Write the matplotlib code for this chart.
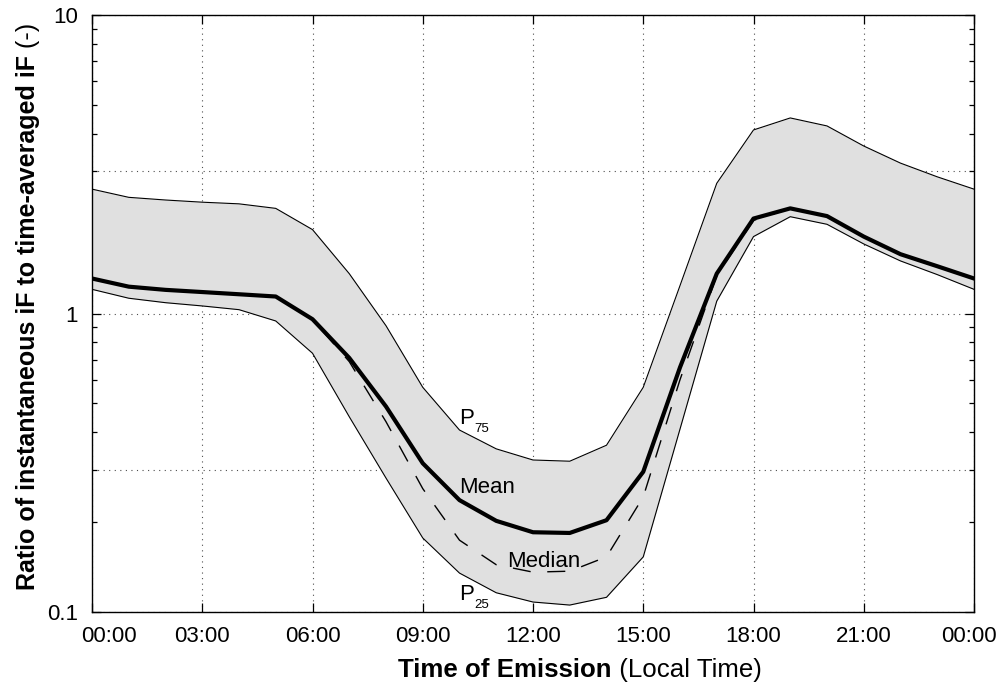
import numpy as np
import matplotlib
matplotlib.use('Agg')
import matplotlib.pyplot as plt
from matplotlib.ticker import FixedLocator, NullFormatter
from matplotlib.transforms import ScaledTranslation

plt.rcParams['font.family'] = ['Liberation Sans', 'DejaVu Sans']

# hour of day (0..24)
hours = list(range(25))

p75 = [2.61, 2.45, 2.40, 2.36, 2.33, 2.25, 1.91, 1.36, 0.91, 0.566, 0.407, 0.352, 0.323,
       0.320, 0.362, 0.566, 1.24, 2.73, 4.12, 4.52, 4.25, 3.64, 3.19, 2.87, 2.61]
mean = [1.31, 1.23, 1.20, 1.18, 1.16, 1.14, 0.957, 0.71, 0.488, 0.315, 0.237, 0.202, 0.185,
        0.184, 0.203, 0.295, 0.66, 1.36, 2.08, 2.25, 2.12, 1.81, 1.58, 1.44, 1.31]
median = [1.31, 1.23, 1.20, 1.18, 1.16, 1.14, 0.955, 0.69, 0.434, 0.259, 0.174, 0.144, 0.136,
          0.137, 0.153, 0.243, 0.60, 1.34, 2.05, 2.25, 2.12, 1.81, 1.58, 1.44, 1.31]
p25 = [1.205, 1.125, 1.087, 1.06, 1.03, 0.944, 0.736, 0.451, 0.281, 0.177, 0.135, 0.116, 0.108,
       0.1055, 0.112, 0.153, 0.41, 1.10, 1.81, 2.11, 1.99, 1.71, 1.50, 1.35, 1.205]

xticks = [0, 3, 6, 9, 12, 15, 18, 21, 24]
xticklabels = ['00:00', '03:00', '06:00', '09:00', '12:00', '15:00', '18:00', '21:00', '00:00']

fig = plt.figure(figsize=(9.99, 6.88), dpi=100)
ax = fig.add_axes([92/999, 1-612/688, 882/999, 597/688])
ax.set_axisbelow(True)

ax.fill_between(hours, p25, p75, color='#e0e0e0', lw=0, zorder=2)
ax.plot(hours, p75, color='k', lw=0.8, zorder=3)
ax.plot(hours, p25, color='k', lw=0.8, zorder=3)
ax.plot(hours, median, color='k', lw=1.0, dashes=(13, 12), zorder=3)
ax.plot(hours, mean, color='k', lw=3.0, zorder=4)

ax.set_yscale('log')
ax.set_ylim(0.1, 10)
ax.set_xlim(0, 24)
ax.set_xticks(xticks)
ax.set_xticklabels(xticklabels)
ax.set_yticks([0.1, 1, 10])
ax.set_yticklabels(['0.1', '1', '10'])
ax.yaxis.set_minor_locator(FixedLocator([0.2, 0.3, 0.4, 0.5, 0.6, 0.7, 0.8, 0.9,
                                         2, 3, 4, 5, 6, 7, 8, 9]))
ax.yaxis.set_minor_formatter(NullFormatter())

ax.tick_params(which='both', direction='in', top=True, right=True, labelsize=16, width=0.9)
ax.tick_params(which='major', length=6.5)
ax.tick_params(which='minor', length=3.5)
ax.tick_params(axis='y', pad=10)
ax.tick_params(axis='x', pad=10)
for s in ax.spines.values():
    s.set_linewidth(1.0)

# first and last x labels are nudged inwards like in the original
labs = ax.get_xticklabels()
labs[0].set_transform(labs[0].get_transform() + ScaledTranslation(17/100, 0, fig.dpi_scale_trans))
labs[-1].set_transform(labs[-1].get_transform() + ScaledTranslation(-5/100, 0, fig.dpi_scale_trans))

grid_style = dict(color='0.3', lw=0.8, linestyle=(0, (1, 4)))
ax.grid(True, which='major', **grid_style)
for g in [0.3, 3]:
    ax.axhline(g, zorder=0.5, **grid_style)

# curve labels
def plabel(x, y, sub):
    t = ax.text(x, y, 'P', fontsize=16, ha='left', va='baseline', zorder=5)
    ax.annotate(sub, xy=(1, 0), xycoords=t, xytext=(0.3, -4.1), textcoords='offset points',
                fontsize=9.5, ha='left', va='bottom', zorder=5, annotation_clip=False)

plabel(10.0, 0.427, '75')
ax.text(10.0, 0.25, 'Mean', fontsize=16, ha='left', va='baseline', zorder=5)
ax.text(11.3, 0.1416, 'Median', fontsize=16, ha='left', va='baseline', zorder=5)
plabel(10.0, 0.1096, '25')

# axis labels (bold part + normal part)
yl = fig.text(28/999, 1-590/688, 'Ratio of instantaneous iF to time-averaged iF',
              rotation=90, fontsize=18, fontweight='bold', ha='center', va='bottom')
ax.annotate(' (-)', xy=(0.5, 1), xycoords=yl, rotation=90, fontsize=18,
            ha='center', va='bottom', annotation_clip=False)

xl = fig.text(398/999, 1-670/688, 'Time of Emission', fontsize=18.6, fontweight='bold',
              ha='left', va='center')
ax.annotate(' (Local Time)', xy=(1, 0), xycoords=xl, fontsize=18.6,
            ha='left', va='bottom', annotation_clip=False)

fig.savefig('out.png', dpi=100)
